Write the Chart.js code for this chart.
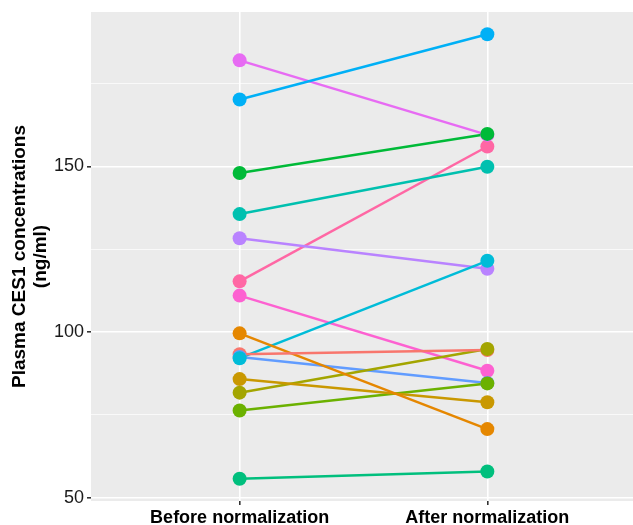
<!DOCTYPE html>
<html>
<head>
<meta charset="utf-8">
<script src="https://cdn.jsdelivr.net/npm/chart.js@4"></script>
<style>
  html, body { margin: 0; padding: 0; background: #fff; }
  #wrap { width: 633px; height: 525px; position: relative; }
</style>
</head>
<body>
<div id="wrap"><canvas id="pairChart"></canvas></div>
<script>
// group labels and tick values
const groupLabels = ['Before normalization', 'After normalization'];
const yTickValues = [50, 75, 100, 125, 150, 175];

// one value per subject, in ggplot hue order
const beforeValues = [93.3, 99.6, 85.8, 81.7, 76.3, 148.0, 55.7, 135.6, 92.1, 170.2, 92.5, 128.3, 182.0, 111.0, 115.3];
const afterValues  = [94.6, 70.7, 78.8, 94.9, 84.5, 159.8, 57.9, 149.9, 121.5, 189.9, 84.6, 119.1, 159.5, 88.3, 156.0];
const seriesColors = ['#F8766D', '#E58700', '#C99800', '#A3A500', '#6BB100', '#00BA38', '#00BF7D', '#00C0AF',
                      '#00BCD8', '#00B0F6', '#619CFF', '#B983FF', '#E76BF3', '#FD61D1', '#FF67A4'];

const panelBg = {
    id: 'panelBg',
    beforeDraw(chart) {
        const { ctx, chartArea: a } = chart;
        ctx.save();
        ctx.fillStyle = '#fff';
        ctx.fillRect(0, 0, chart.width, chart.height);
        ctx.fillStyle = '#EBEBEB';
        ctx.fillRect(a.left, a.top, a.right - a.left, a.bottom - a.top);
        ctx.restore();
    }
};

function initChart() {
    const ctx = document.getElementById('pairChart').getContext('2d');
    const datasets = [];

    // points first so they sit above every line
    beforeValues.forEach((b, i) => {
        datasets.push({
            type: 'scatter',
            data: [{ x: 1, y: b }, { x: 2, y: afterValues[i] }],
            backgroundColor: seriesColors[i],
            borderWidth: 0,
            pointRadius: 7,
            order: i === 0 ? 50 : i
        });
    });
    beforeValues.forEach((b, i) => {
        datasets.push({
            type: 'line',
            data: [{ x: 1, y: b }, { x: 2, y: afterValues[i] }],
            borderColor: seriesColors[i],
            borderWidth: 2.5,
            pointRadius: 0,
            fill: false,
            order: 100 + i
        });
    });

    new Chart(ctx, {
        type: 'scatter',
        data: { datasets },
        options: {
            responsive: true,
            maintainAspectRatio: false,
            animation: false,
            layout: { autoPadding: false, padding: { top: 12, right: 0, bottom: 0, left: 0 } },
            plugins: { legend: { display: false }, tooltip: { enabled: false } },
            scales: {
                x: {
                    type: 'linear',
                    min: 0.4,
                    max: 2.588,
                    afterBuildTicks: s => { s.ticks = [{ value: 1 }, { value: 2 }]; },
                    afterFit: s => { s.height = 24; s.paddingLeft = 0; s.paddingRight = 0; },
                    border: { display: false },
                    grid: { color: '#fff', lineWidth: 1.6, tickColor: '#333', tickLength: 4 },
                    ticks: {
                        color: '#000',
                        padding: 2,
                        maxRotation: 0,
                        font: { family: 'Liberation Sans, Arial', size: 18, weight: 'bold' },
                        callback: v => groupLabels[v - 1]
                    }
                },
                y: {
                    min: 49.0,
                    max: 196.6,
                    afterBuildTicks: s => { s.ticks = yTickValues.map(v => ({ value: v })); },
                    afterFit: s => { s.width = 91; s.paddingTop = 0; s.paddingBottom = 0; },
                    border: { display: false },
                    grid: {
                        color: '#fff',
                        lineWidth: c => (c.tick && c.tick.value % 50 === 0 ? 1.6 : 0.7),
                        tickColor: c => (c.tick && c.tick.value % 50 === 0 ? '#333' : 'rgba(0,0,0,0)'),
                        tickLength: 4
                    },
                    ticks: {
                        color: '#1a1a1a',
                        padding: 3,
                        font: { family: 'Liberation Sans, Arial', size: 18 },
                        callback: v => (v % 50 === 0 ? v : '')
                    },
                    title: {
                        display: true,
                        text: ['Plasma CES1 concentrations', '(ng/ml)'],
                        color: '#000',
                        padding: { top: 10, bottom: 0 },
                        font: { family: 'Liberation Sans, Arial', size: 19, weight: 'bold', lineHeight: 1.08 }
                    }
                }
            }
        },
        plugins: [panelBg]
    });
}

window.addEventListener('DOMContentLoaded', initChart);
</script>
</body>
</html>
